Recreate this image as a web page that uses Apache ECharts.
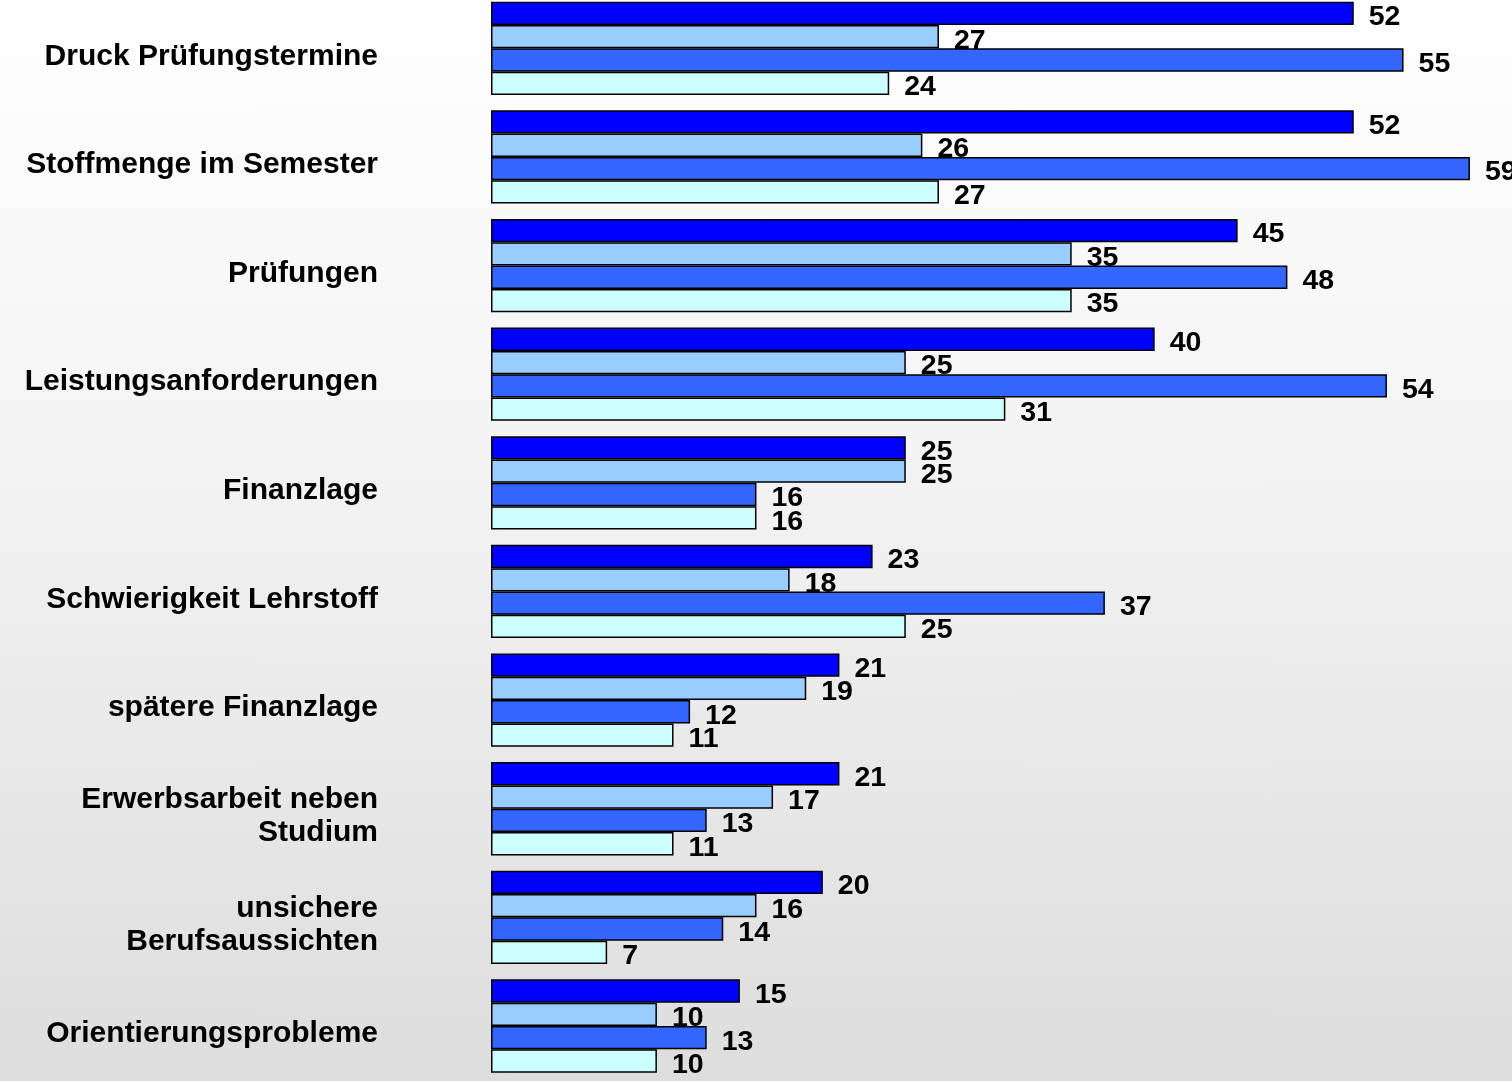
<!DOCTYPE html>
<html>
<head>
<meta charset="utf-8">
<script src="https://cdn.jsdelivr.net/npm/echarts@6/dist/echarts.min.js"></script>
<style>
html, body { margin: 0; padding: 0; }
#wrap {
    position: relative;
    width: 1512px;
    height: 1081px;
    overflow: hidden;
    background: linear-gradient(to bottom, #ffffff 0%, #f4f4f4 40%, #dddddd 100%);
}
/* chart is a bit taller and moved up so the first bar group touches the top */
#chart {
    position: absolute;
    left: 0;
    top: -6px;
    width: 1512px;
    height: 1100px;
}
</style>
</head>
<body>
<div id="wrap"><div id="chart"></div></div>
<script>
// categories, top to bottom
var categories = [
    'Druck Prüfungstermine',
    'Stoffmenge im Semester',
    'Prüfungen',
    'Leistungsanforderungen',
    'Finanzlage',
    'Schwierigkeit Lehrstoff',
    'spätere Finanzlage',
    'Erwerbsarbeit neben\nStudium',
    'unsichere\nBerufsaussichten',
    'Orientierungsprobleme'
];

// four series per category, top bar first
var serie1 = [52, 52, 45, 40, 25, 23, 21, 21, 20, 15];
var serie2 = [27, 26, 35, 25, 25, 18, 19, 17, 16, 10];
var serie3 = [55, 59, 48, 54, 16, 37, 12, 13, 14, 13];
var serie4 = [24, 27, 35, 31, 16, 25, 11, 11, 7, 10];

var seriesNames = ['Serie 1', 'Serie 2', 'Serie 3', 'Serie 4'];
var colors = ['#0000ff', '#99ccff', '#3366ff', '#ccffff'];

var chart = echarts.init(document.getElementById('chart'));

function makeSeries(name, data, color){
    return {
        name: name,
        type: 'bar',
        data: data,
        barGap: '0%',
        barCategoryGap: '14.1%',
        itemStyle: {
            color: color,
            borderColor: '#000',
            borderWidth: 1.5
        },
        label: {
            show: true,
            position: 'right',
            distance: 15,
            offset: [0, 4],
            color: '#000',
            fontFamily: 'Liberation Sans, Arial, sans-serif',
            fontWeight: 'bold',
            fontSize: 28.5
        },
        animation: false
    };
}

chart.setOption({
    backgroundColor: 'transparent',
    // grid 0 holds the bars, grid 1 only carries the category names a little lower
    grid: [
        { left: 491, top: 0, width: 995.5, height: 1086.3 },
        { left: 491, top: 8, width: 995.5, height: 1086.3 }
    ],
    xAxis: [
        { type: 'value', min: 0, max: 60, show: false, gridIndex: 0 },
        { type: 'value', min: 0, max: 60, show: false, gridIndex: 1 }
    ],
    yAxis: [
        {
            type: 'category',
            gridIndex: 0,
            data: categories,
            inverse: true,
            axisLine: { show: false },
            axisTick: { show: false },
            splitLine: { show: false },
            axisLabel: { show: false }
        },
        {
            type: 'category',
            gridIndex: 1,
            data: categories,
            inverse: true,
            axisLine: { show: false },
            axisTick: { show: false },
            splitLine: { show: false },
            axisLabel: {
                margin: 113,
                color: '#000',
                fontFamily: 'Liberation Sans, Arial, sans-serif',
                fontWeight: 'bold',
                fontSize: 30,
                lineHeight: 33
            }
        }
    ],
    series: [
        makeSeries(seriesNames[0], serie1, colors[0]),
        makeSeries(seriesNames[1], serie2, colors[1]),
        makeSeries(seriesNames[2], serie3, colors[2]),
        makeSeries(seriesNames[3], serie4, colors[3])
    ]
});
</script>
</body>
</html>
